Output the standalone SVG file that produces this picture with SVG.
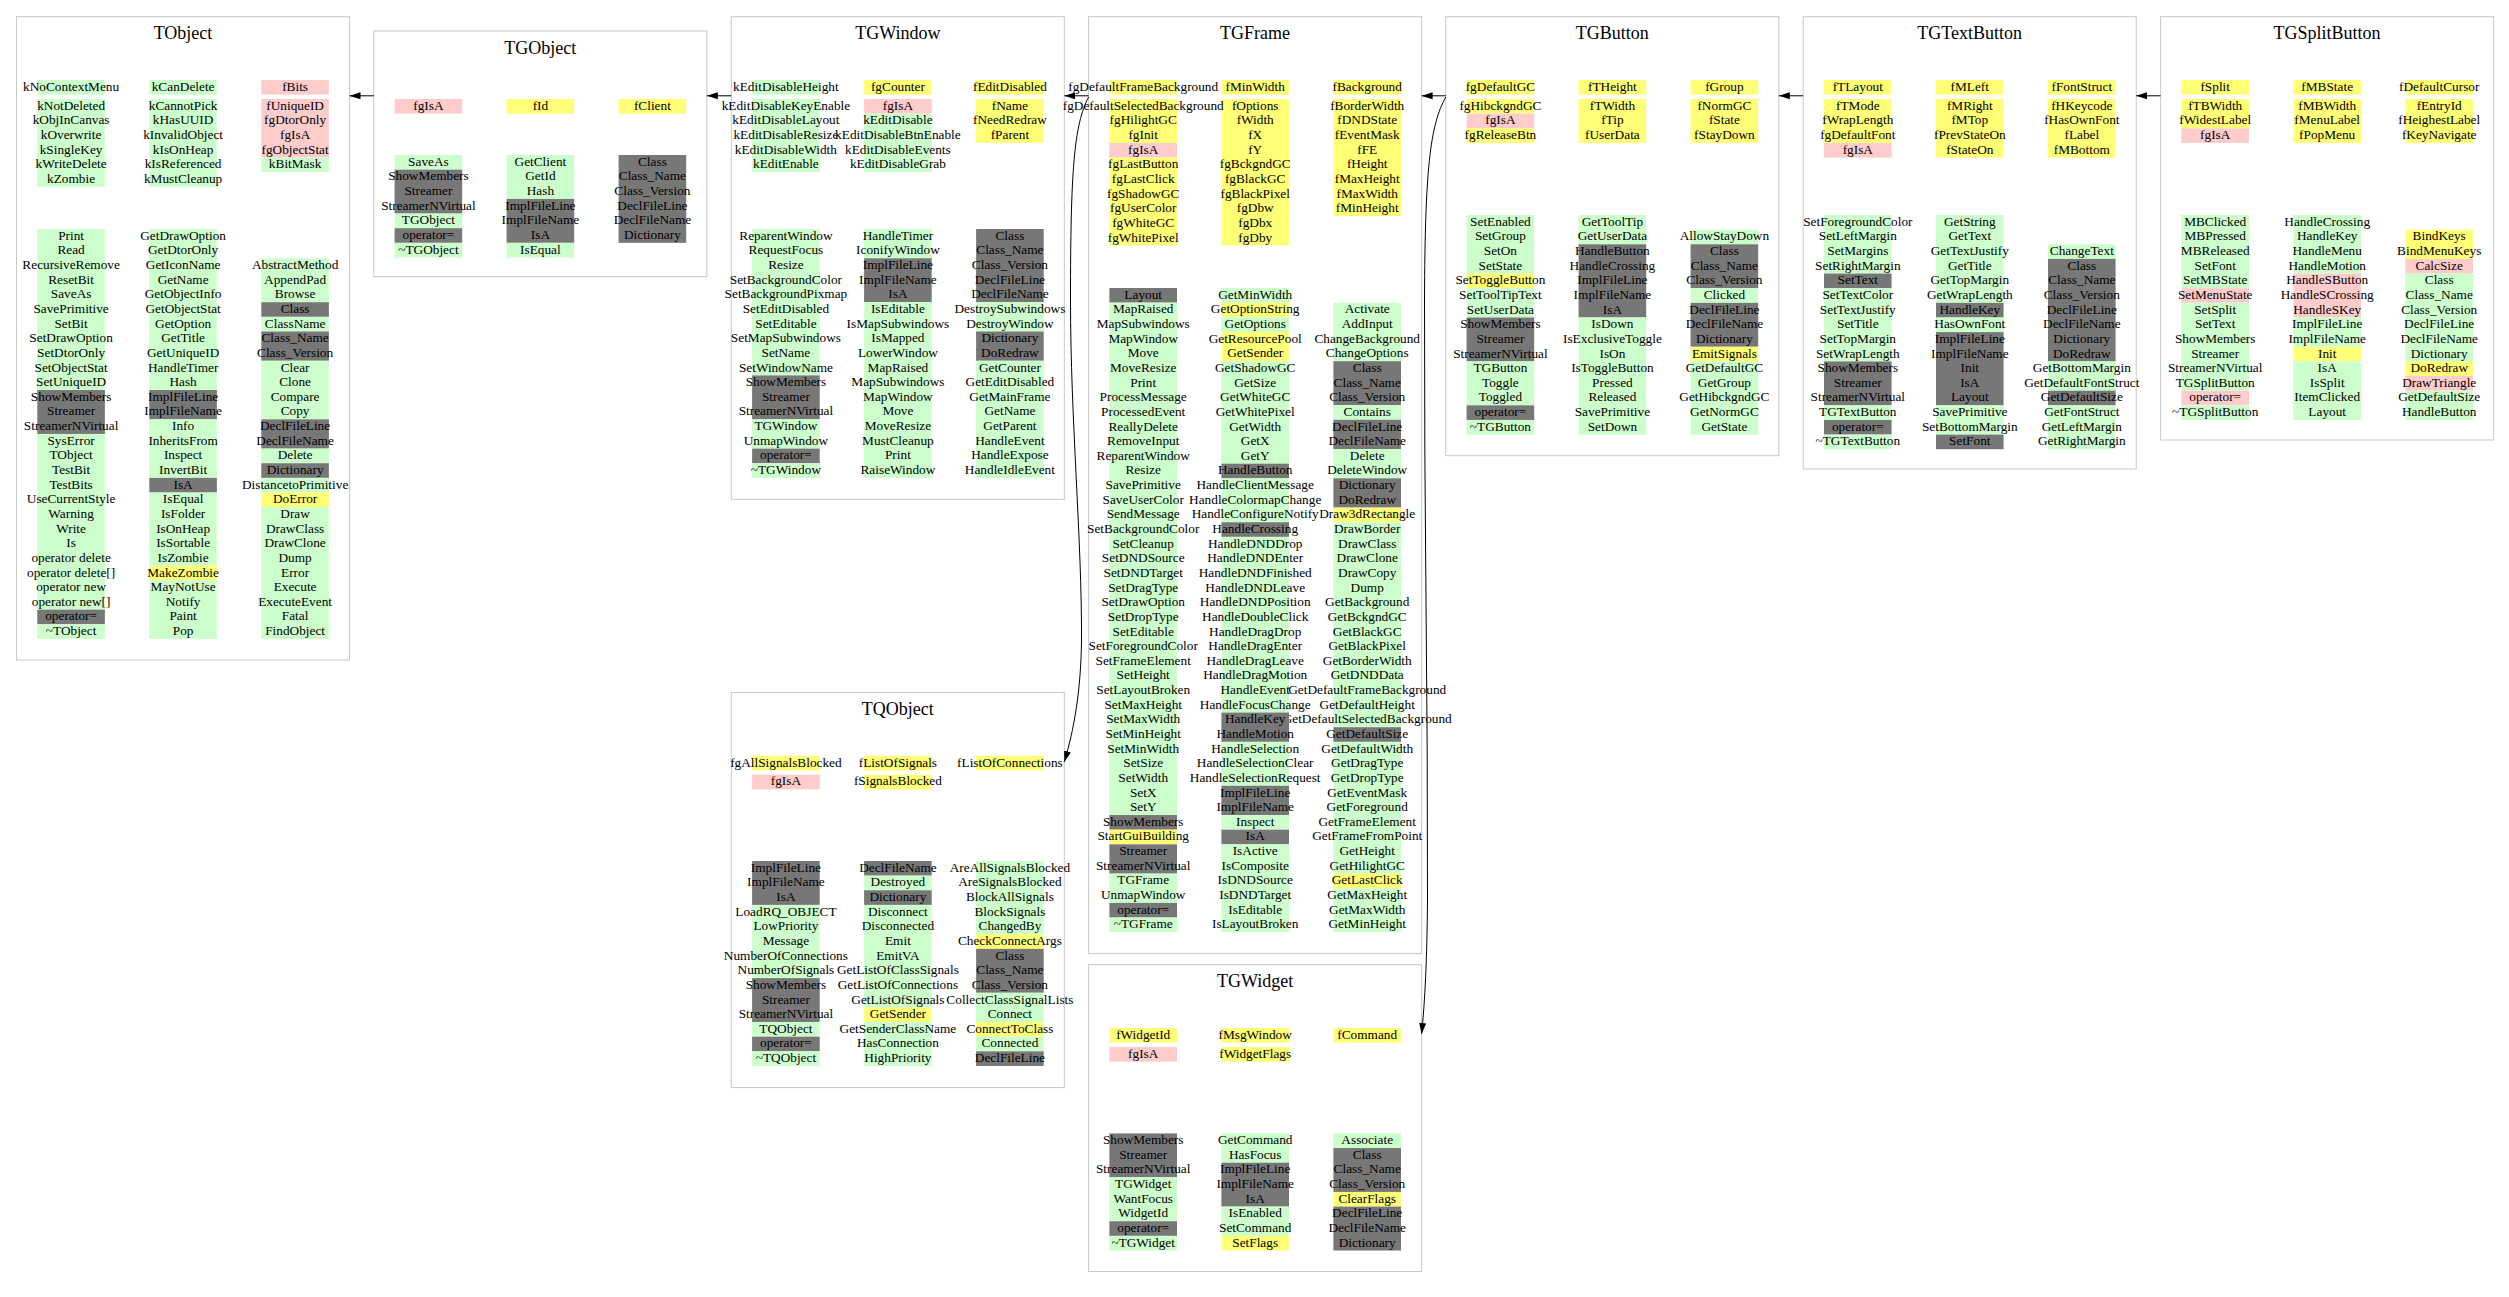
<svg xmlns="http://www.w3.org/2000/svg" width="2509" height="1297" viewBox="0 0 2509 1297">
<defs>
<style>
.bx{fill:none;stroke:#c8c8c8;stroke-width:1}
.ti{font-family:"Liberation Serif","Times New Roman",serif;font-size:18px;text-anchor:middle;fill:#000}
.t{font-family:"Liberation Serif","Times New Roman",serif;font-size:13.3px;text-anchor:middle;fill:#000}
.g{fill:#ccffcc}.p{fill:#ffcccc}.y{fill:#ffff77}.k{fill:#777777}
.e{fill:none;stroke:#000;stroke-width:1}
</style>
<marker id="ah" markerWidth="11" markerHeight="8" refX="11" refY="4" orient="auto" markerUnits="userSpaceOnUse"><path d="M0,0.5L11,4L0,7.5z" fill="#000"/></marker>
</defs>
<rect width="2509" height="1297" fill="#fff"/>

<g id="TObject" transform="translate(16.5,16.7)">
<rect class="bx" width="333" height="643.3"/>
<text class="ti" x="166.5" y="22.5">TObject</text>
<g transform="translate(278.6,63.3)"><rect class="p" x="-33.8" width="67.6" height="14.64"/><g transform="translate(0,19) scale(1,14.64)"><rect class="p" x="-33.8" y="0" width="67.6" height="4"/><rect class="g" x="-33.8" y="4" width="67.6" height="1"/></g><text class="t" y="10.8"><tspan x="0">fBits</tspan><tspan x="0" dy="19">fUniqueID</tspan><tspan x="0" dy="14.64">fgDtorOnly</tspan><tspan x="0" dy="14.64">fgIsA</tspan><tspan x="0" dy="14.64">fgObjectStat</tspan><tspan x="0" dy="14.64">kBitMask</tspan></text></g>
<g transform="translate(166.6,63.3)"><rect class="g" x="-33.8" width="67.6" height="14.64"/><g transform="translate(0,19) scale(1,14.64)"><rect class="g" x="-33.8" y="0" width="67.6" height="6"/></g><text class="t" y="10.8"><tspan x="0">kCanDelete</tspan><tspan x="0" dy="19">kCannotPick</tspan><tspan x="0" dy="14.64">kHasUUID</tspan><tspan x="0" dy="14.64">kInvalidObject</tspan><tspan x="0" dy="14.64">kIsOnHeap</tspan><tspan x="0" dy="14.64">kIsReferenced</tspan><tspan x="0" dy="14.64">kMustCleanup</tspan></text></g>
<g transform="translate(54.6,63.3)"><rect class="g" x="-33.8" width="67.6" height="14.64"/><g transform="translate(0,19) scale(1,14.64)"><rect class="g" x="-33.8" y="0" width="67.6" height="6"/></g><text class="t" y="10.8"><tspan x="0">kNoContextMenu</tspan><tspan x="0" dy="19">kNotDeleted</tspan><tspan x="0" dy="14.64">kObjInCanvas</tspan><tspan x="0" dy="14.64">kOverwrite</tspan><tspan x="0" dy="14.64">kSingleKey</tspan><tspan x="0" dy="14.64">kWriteDelete</tspan><tspan x="0" dy="14.64">kZombie</tspan></text></g>
<g transform="translate(278.6,241.58)"><g transform="scale(1,14.64)"><rect class="g" x="-33.8" y="0" width="67.6" height="3"/><rect class="k" x="-33.8" y="3" width="67.6" height="1"/><rect class="g" x="-33.8" y="4" width="67.6" height="1"/><rect class="k" x="-33.8" y="5" width="67.6" height="2"/><rect class="g" x="-33.8" y="7" width="67.6" height="4"/><rect class="k" x="-33.8" y="11" width="67.6" height="2"/><rect class="g" x="-33.8" y="13" width="67.6" height="1"/><rect class="k" x="-33.8" y="14" width="67.6" height="1"/><rect class="g" x="-33.8" y="15" width="67.6" height="1"/><rect class="y" x="-33.8" y="16" width="67.6" height="1"/><rect class="g" x="-33.8" y="17" width="67.6" height="9"/></g><text class="t" y="10.8"><tspan x="0">AbstractMethod</tspan><tspan x="0" dy="14.64">AppendPad</tspan><tspan x="0" dy="14.64">Browse</tspan><tspan x="0" dy="14.64">Class</tspan><tspan x="0" dy="14.64">ClassName</tspan><tspan x="0" dy="14.64">Class_Name</tspan><tspan x="0" dy="14.64">Class_Version</tspan><tspan x="0" dy="14.64">Clear</tspan><tspan x="0" dy="14.64">Clone</tspan><tspan x="0" dy="14.64">Compare</tspan><tspan x="0" dy="14.64">Copy</tspan><tspan x="0" dy="14.64">DeclFileLine</tspan><tspan x="0" dy="14.64">DeclFileName</tspan><tspan x="0" dy="14.64">Delete</tspan><tspan x="0" dy="14.64">Dictionary</tspan><tspan x="0" dy="14.64">DistancetoPrimitive</tspan><tspan x="0" dy="14.64">DoError</tspan><tspan x="0" dy="14.64">Draw</tspan><tspan x="0" dy="14.64">DrawClass</tspan><tspan x="0" dy="14.64">DrawClone</tspan><tspan x="0" dy="14.64">Dump</tspan><tspan x="0" dy="14.64">Error</tspan><tspan x="0" dy="14.64">Execute</tspan><tspan x="0" dy="14.64">ExecuteEvent</tspan><tspan x="0" dy="14.64">Fatal</tspan><tspan x="0" dy="14.64">FindObject</tspan></text></g>
<g transform="translate(166.6,212.3)"><g transform="scale(1,14.64)"><rect class="g" x="-33.8" y="0" width="67.6" height="11"/><rect class="k" x="-33.8" y="11" width="67.6" height="2"/><rect class="g" x="-33.8" y="13" width="67.6" height="4"/><rect class="k" x="-33.8" y="17" width="67.6" height="1"/><rect class="g" x="-33.8" y="18" width="67.6" height="5"/><rect class="y" x="-33.8" y="23" width="67.6" height="1"/><rect class="g" x="-33.8" y="24" width="67.6" height="4"/></g><text class="t" y="10.8"><tspan x="0">GetDrawOption</tspan><tspan x="0" dy="14.64">GetDtorOnly</tspan><tspan x="0" dy="14.64">GetIconName</tspan><tspan x="0" dy="14.64">GetName</tspan><tspan x="0" dy="14.64">GetObjectInfo</tspan><tspan x="0" dy="14.64">GetObjectStat</tspan><tspan x="0" dy="14.64">GetOption</tspan><tspan x="0" dy="14.64">GetTitle</tspan><tspan x="0" dy="14.64">GetUniqueID</tspan><tspan x="0" dy="14.64">HandleTimer</tspan><tspan x="0" dy="14.64">Hash</tspan><tspan x="0" dy="14.64">ImplFileLine</tspan><tspan x="0" dy="14.64">ImplFileName</tspan><tspan x="0" dy="14.64">Info</tspan><tspan x="0" dy="14.64">InheritsFrom</tspan><tspan x="0" dy="14.64">Inspect</tspan><tspan x="0" dy="14.64">InvertBit</tspan><tspan x="0" dy="14.64">IsA</tspan><tspan x="0" dy="14.64">IsEqual</tspan><tspan x="0" dy="14.64">IsFolder</tspan><tspan x="0" dy="14.64">IsOnHeap</tspan><tspan x="0" dy="14.64">IsSortable</tspan><tspan x="0" dy="14.64">IsZombie</tspan><tspan x="0" dy="14.64">MakeZombie</tspan><tspan x="0" dy="14.64">MayNotUse</tspan><tspan x="0" dy="14.64">Notify</tspan><tspan x="0" dy="14.64">Paint</tspan><tspan x="0" dy="14.64">Pop</tspan></text></g>
<g transform="translate(54.6,212.3)"><g transform="scale(1,14.64)"><rect class="g" x="-33.8" y="0" width="67.6" height="11"/><rect class="k" x="-33.8" y="11" width="67.6" height="3"/><rect class="g" x="-33.8" y="14" width="67.6" height="12"/><rect class="k" x="-33.8" y="26" width="67.6" height="1"/><rect class="g" x="-33.8" y="27" width="67.6" height="1"/></g><text class="t" y="10.8"><tspan x="0">Print</tspan><tspan x="0" dy="14.64">Read</tspan><tspan x="0" dy="14.64">RecursiveRemove</tspan><tspan x="0" dy="14.64">ResetBit</tspan><tspan x="0" dy="14.64">SaveAs</tspan><tspan x="0" dy="14.64">SavePrimitive</tspan><tspan x="0" dy="14.64">SetBit</tspan><tspan x="0" dy="14.64">SetDrawOption</tspan><tspan x="0" dy="14.64">SetDtorOnly</tspan><tspan x="0" dy="14.64">SetObjectStat</tspan><tspan x="0" dy="14.64">SetUniqueID</tspan><tspan x="0" dy="14.64">ShowMembers</tspan><tspan x="0" dy="14.64">Streamer</tspan><tspan x="0" dy="14.64">StreamerNVirtual</tspan><tspan x="0" dy="14.64">SysError</tspan><tspan x="0" dy="14.64">TObject</tspan><tspan x="0" dy="14.64">TestBit</tspan><tspan x="0" dy="14.64">TestBits</tspan><tspan x="0" dy="14.64">UseCurrentStyle</tspan><tspan x="0" dy="14.64">Warning</tspan><tspan x="0" dy="14.64">Write</tspan><tspan x="0" dy="14.64">Is</tspan><tspan x="0" dy="14.64">operator delete</tspan><tspan x="0" dy="14.64">operator delete[]</tspan><tspan x="0" dy="14.64">operator new</tspan><tspan x="0" dy="14.64">operator new[]</tspan><tspan x="0" dy="14.64">operator=</tspan><tspan x="0" dy="14.64">~TObject</tspan></text></g>
</g>

<g id="TGObject" transform="translate(373.8,31)">
<rect class="bx" width="333" height="245.7"/>
<text class="ti" x="166.5" y="22.5">TGObject</text>
<g transform="translate(278.6,68)"><rect class="y" x="-33.8" width="67.6" height="14.64"/><text class="t" x="0" y="10.8">fClient</text></g>
<g transform="translate(166.6,68)"><rect class="y" x="-33.8" width="67.6" height="14.64"/><text class="t" x="0" y="10.8">fId</text></g>
<g transform="translate(54.6,68)"><rect class="p" x="-33.8" width="67.6" height="14.64"/><text class="t" x="0" y="10.8">fgIsA</text></g>
<g transform="translate(278.6,124)"><g transform="scale(1,14.64)"><rect class="k" x="-33.8" y="0" width="67.6" height="6"/></g><text class="t" y="10.8"><tspan x="0">Class</tspan><tspan x="0" dy="14.64">Class_Name</tspan><tspan x="0" dy="14.64">Class_Version</tspan><tspan x="0" dy="14.64">DeclFileLine</tspan><tspan x="0" dy="14.64">DeclFileName</tspan><tspan x="0" dy="14.64">Dictionary</tspan></text></g>
<g transform="translate(166.6,124)"><g transform="scale(1,14.64)"><rect class="g" x="-33.8" y="0" width="67.6" height="3"/><rect class="k" x="-33.8" y="3" width="67.6" height="3"/><rect class="g" x="-33.8" y="6" width="67.6" height="1"/></g><text class="t" y="10.8"><tspan x="0">GetClient</tspan><tspan x="0" dy="14.64">GetId</tspan><tspan x="0" dy="14.64">Hash</tspan><tspan x="0" dy="14.64">ImplFileLine</tspan><tspan x="0" dy="14.64">ImplFileName</tspan><tspan x="0" dy="14.64">IsA</tspan><tspan x="0" dy="14.64">IsEqual</tspan></text></g>
<g transform="translate(54.6,124)"><g transform="scale(1,14.64)"><rect class="g" x="-33.8" y="0" width="67.6" height="1"/><rect class="k" x="-33.8" y="1" width="67.6" height="3"/><rect class="g" x="-33.8" y="4" width="67.6" height="1"/><rect class="k" x="-33.8" y="5" width="67.6" height="1"/><rect class="g" x="-33.8" y="6" width="67.6" height="1"/></g><text class="t" y="10.8"><tspan x="0">SaveAs</tspan><tspan x="0" dy="14.64">ShowMembers</tspan><tspan x="0" dy="14.64">Streamer</tspan><tspan x="0" dy="14.64">StreamerNVirtual</tspan><tspan x="0" dy="14.64">TGObject</tspan><tspan x="0" dy="14.64">operator=</tspan><tspan x="0" dy="14.64">~TGObject</tspan></text></g>
</g>

<g id="TGWindow" transform="translate(731.3,16.7)">
<rect class="bx" width="333" height="482.6"/>
<text class="ti" x="166.5" y="22.5">TGWindow</text>
<g transform="translate(278.6,63.3)"><rect class="y" x="-33.8" width="67.6" height="14.64"/><g transform="translate(0,19) scale(1,14.64)"><rect class="y" x="-33.8" y="0" width="67.6" height="3"/></g><text class="t" y="10.8"><tspan x="0">fEditDisabled</tspan><tspan x="0" dy="19">fName</tspan><tspan x="0" dy="14.64">fNeedRedraw</tspan><tspan x="0" dy="14.64">fParent</tspan></text></g>
<g transform="translate(166.6,63.3)"><rect class="y" x="-33.8" width="67.6" height="14.64"/><g transform="translate(0,19) scale(1,14.64)"><rect class="p" x="-33.8" y="0" width="67.6" height="1"/><rect class="g" x="-33.8" y="1" width="67.6" height="4"/></g><text class="t" y="10.8"><tspan x="0">fgCounter</tspan><tspan x="0" dy="19">fgIsA</tspan><tspan x="0" dy="14.64">kEditDisable</tspan><tspan x="0" dy="14.64">kEditDisableBtnEnable</tspan><tspan x="0" dy="14.64">kEditDisableEvents</tspan><tspan x="0" dy="14.64">kEditDisableGrab</tspan></text></g>
<g transform="translate(54.6,63.3)"><rect class="g" x="-33.8" width="67.6" height="14.64"/><g transform="translate(0,19) scale(1,14.64)"><rect class="g" x="-33.8" y="0" width="67.6" height="5"/></g><text class="t" y="10.8"><tspan x="0">kEditDisableHeight</tspan><tspan x="0" dy="19">kEditDisableKeyEnable</tspan><tspan x="0" dy="14.64">kEditDisableLayout</tspan><tspan x="0" dy="14.64">kEditDisableResize</tspan><tspan x="0" dy="14.64">kEditDisableWidth</tspan><tspan x="0" dy="14.64">kEditEnable</tspan></text></g>
<g transform="translate(278.6,212.3)"><g transform="scale(1,14.64)"><rect class="k" x="-33.8" y="0" width="67.6" height="5"/><rect class="g" x="-33.8" y="5" width="67.6" height="2"/><rect class="k" x="-33.8" y="7" width="67.6" height="2"/><rect class="g" x="-33.8" y="9" width="67.6" height="8"/></g><text class="t" y="10.8"><tspan x="0">Class</tspan><tspan x="0" dy="14.64">Class_Name</tspan><tspan x="0" dy="14.64">Class_Version</tspan><tspan x="0" dy="14.64">DeclFileLine</tspan><tspan x="0" dy="14.64">DeclFileName</tspan><tspan x="0" dy="14.64">DestroySubwindows</tspan><tspan x="0" dy="14.64">DestroyWindow</tspan><tspan x="0" dy="14.64">Dictionary</tspan><tspan x="0" dy="14.64">DoRedraw</tspan><tspan x="0" dy="14.64">GetCounter</tspan><tspan x="0" dy="14.64">GetEditDisabled</tspan><tspan x="0" dy="14.64">GetMainFrame</tspan><tspan x="0" dy="14.64">GetName</tspan><tspan x="0" dy="14.64">GetParent</tspan><tspan x="0" dy="14.64">HandleEvent</tspan><tspan x="0" dy="14.64">HandleExpose</tspan><tspan x="0" dy="14.64">HandleIdleEvent</tspan></text></g>
<g transform="translate(166.6,212.3)"><g transform="scale(1,14.64)"><rect class="g" x="-33.8" y="0" width="67.6" height="2"/><rect class="k" x="-33.8" y="2" width="67.6" height="3"/><rect class="g" x="-33.8" y="5" width="67.6" height="12"/></g><text class="t" y="10.8"><tspan x="0">HandleTimer</tspan><tspan x="0" dy="14.64">IconifyWindow</tspan><tspan x="0" dy="14.64">ImplFileLine</tspan><tspan x="0" dy="14.64">ImplFileName</tspan><tspan x="0" dy="14.64">IsA</tspan><tspan x="0" dy="14.64">IsEditable</tspan><tspan x="0" dy="14.64">IsMapSubwindows</tspan><tspan x="0" dy="14.64">IsMapped</tspan><tspan x="0" dy="14.64">LowerWindow</tspan><tspan x="0" dy="14.64">MapRaised</tspan><tspan x="0" dy="14.64">MapSubwindows</tspan><tspan x="0" dy="14.64">MapWindow</tspan><tspan x="0" dy="14.64">Move</tspan><tspan x="0" dy="14.64">MoveResize</tspan><tspan x="0" dy="14.64">MustCleanup</tspan><tspan x="0" dy="14.64">Print</tspan><tspan x="0" dy="14.64">RaiseWindow</tspan></text></g>
<g transform="translate(54.6,212.3)"><g transform="scale(1,14.64)"><rect class="g" x="-33.8" y="0" width="67.6" height="10"/><rect class="k" x="-33.8" y="10" width="67.6" height="3"/><rect class="g" x="-33.8" y="13" width="67.6" height="2"/><rect class="k" x="-33.8" y="15" width="67.6" height="1"/><rect class="g" x="-33.8" y="16" width="67.6" height="1"/></g><text class="t" y="10.8"><tspan x="0">ReparentWindow</tspan><tspan x="0" dy="14.64">RequestFocus</tspan><tspan x="0" dy="14.64">Resize</tspan><tspan x="0" dy="14.64">SetBackgroundColor</tspan><tspan x="0" dy="14.64">SetBackgroundPixmap</tspan><tspan x="0" dy="14.64">SetEditDisabled</tspan><tspan x="0" dy="14.64">SetEditable</tspan><tspan x="0" dy="14.64">SetMapSubwindows</tspan><tspan x="0" dy="14.64">SetName</tspan><tspan x="0" dy="14.64">SetWindowName</tspan><tspan x="0" dy="14.64">ShowMembers</tspan><tspan x="0" dy="14.64">Streamer</tspan><tspan x="0" dy="14.64">StreamerNVirtual</tspan><tspan x="0" dy="14.64">TGWindow</tspan><tspan x="0" dy="14.64">UnmapWindow</tspan><tspan x="0" dy="14.64">operator=</tspan><tspan x="0" dy="14.64">~TGWindow</tspan></text></g>
</g>

<g id="TGFrame" transform="translate(1088.6,16.7)">
<rect class="bx" width="333" height="936.9"/>
<text class="ti" x="166.5" y="22.5">TGFrame</text>
<g transform="translate(278.6,63.3)"><rect class="y" x="-33.8" width="67.6" height="14.64"/><g transform="translate(0,19) scale(1,14.64)"><rect class="y" x="-33.8" y="0" width="67.6" height="8"/></g><text class="t" y="10.8"><tspan x="0">fBackground</tspan><tspan x="0" dy="19">fBorderWidth</tspan><tspan x="0" dy="14.64">fDNDState</tspan><tspan x="0" dy="14.64">fEventMask</tspan><tspan x="0" dy="14.64">fFE</tspan><tspan x="0" dy="14.64">fHeight</tspan><tspan x="0" dy="14.64">fMaxHeight</tspan><tspan x="0" dy="14.64">fMaxWidth</tspan><tspan x="0" dy="14.64">fMinHeight</tspan></text></g>
<g transform="translate(166.6,63.3)"><rect class="y" x="-33.8" width="67.6" height="14.64"/><g transform="translate(0,19) scale(1,14.64)"><rect class="y" x="-33.8" y="0" width="67.6" height="10"/></g><text class="t" y="10.8"><tspan x="0">fMinWidth</tspan><tspan x="0" dy="19">fOptions</tspan><tspan x="0" dy="14.64">fWidth</tspan><tspan x="0" dy="14.64">fX</tspan><tspan x="0" dy="14.64">fY</tspan><tspan x="0" dy="14.64">fgBckgndGC</tspan><tspan x="0" dy="14.64">fgBlackGC</tspan><tspan x="0" dy="14.64">fgBlackPixel</tspan><tspan x="0" dy="14.64">fgDbw</tspan><tspan x="0" dy="14.64">fgDbx</tspan><tspan x="0" dy="14.64">fgDby</tspan></text></g>
<g transform="translate(54.6,63.3)"><rect class="y" x="-33.8" width="67.6" height="14.64"/><g transform="translate(0,19) scale(1,14.64)"><rect class="y" x="-33.8" y="0" width="67.6" height="3"/><rect class="p" x="-33.8" y="3" width="67.6" height="1"/><rect class="y" x="-33.8" y="4" width="67.6" height="6"/></g><text class="t" y="10.8"><tspan x="0">fgDefaultFrameBackground</tspan><tspan x="0" dy="19">fgDefaultSelectedBackground</tspan><tspan x="0" dy="14.64">fgHilightGC</tspan><tspan x="0" dy="14.64">fgInit</tspan><tspan x="0" dy="14.64">fgIsA</tspan><tspan x="0" dy="14.64">fgLastButton</tspan><tspan x="0" dy="14.64">fgLastClick</tspan><tspan x="0" dy="14.64">fgShadowGC</tspan><tspan x="0" dy="14.64">fgUserColor</tspan><tspan x="0" dy="14.64">fgWhiteGC</tspan><tspan x="0" dy="14.64">fgWhitePixel</tspan></text></g>
<g transform="translate(278.6,285.94)"><g transform="scale(1,14.64)"><rect class="g" x="-33.8" y="0" width="67.6" height="4"/><rect class="k" x="-33.8" y="4" width="67.6" height="3"/><rect class="g" x="-33.8" y="7" width="67.6" height="1"/><rect class="k" x="-33.8" y="8" width="67.6" height="2"/><rect class="g" x="-33.8" y="10" width="67.6" height="2"/><rect class="k" x="-33.8" y="12" width="67.6" height="2"/><rect class="y" x="-33.8" y="14" width="67.6" height="1"/><rect class="g" x="-33.8" y="15" width="67.6" height="14"/><rect class="k" x="-33.8" y="29" width="67.6" height="1"/><rect class="g" x="-33.8" y="30" width="67.6" height="9"/><rect class="y" x="-33.8" y="39" width="67.6" height="1"/><rect class="g" x="-33.8" y="40" width="67.6" height="3"/></g><text class="t" y="10.8"><tspan x="0">Activate</tspan><tspan x="0" dy="14.64">AddInput</tspan><tspan x="0" dy="14.64">ChangeBackground</tspan><tspan x="0" dy="14.64">ChangeOptions</tspan><tspan x="0" dy="14.64">Class</tspan><tspan x="0" dy="14.64">Class_Name</tspan><tspan x="0" dy="14.64">Class_Version</tspan><tspan x="0" dy="14.64">Contains</tspan><tspan x="0" dy="14.64">DeclFileLine</tspan><tspan x="0" dy="14.64">DeclFileName</tspan><tspan x="0" dy="14.64">Delete</tspan><tspan x="0" dy="14.64">DeleteWindow</tspan><tspan x="0" dy="14.64">Dictionary</tspan><tspan x="0" dy="14.64">DoRedraw</tspan><tspan x="0" dy="14.64">Draw3dRectangle</tspan><tspan x="0" dy="14.64">DrawBorder</tspan><tspan x="0" dy="14.64">DrawClass</tspan><tspan x="0" dy="14.64">DrawClone</tspan><tspan x="0" dy="14.64">DrawCopy</tspan><tspan x="0" dy="14.64">Dump</tspan><tspan x="0" dy="14.64">GetBackground</tspan><tspan x="0" dy="14.64">GetBckgndGC</tspan><tspan x="0" dy="14.64">GetBlackGC</tspan><tspan x="0" dy="14.64">GetBlackPixel</tspan><tspan x="0" dy="14.64">GetBorderWidth</tspan><tspan x="0" dy="14.64">GetDNDData</tspan><tspan x="0" dy="14.64">GetDefaultFrameBackground</tspan><tspan x="0" dy="14.64">GetDefaultHeight</tspan><tspan x="0" dy="14.64">GetDefaultSelectedBackground</tspan><tspan x="0" dy="14.64">GetDefaultSize</tspan><tspan x="0" dy="14.64">GetDefaultWidth</tspan><tspan x="0" dy="14.64">GetDragType</tspan><tspan x="0" dy="14.64">GetDropType</tspan><tspan x="0" dy="14.64">GetEventMask</tspan><tspan x="0" dy="14.64">GetForeground</tspan><tspan x="0" dy="14.64">GetFrameElement</tspan><tspan x="0" dy="14.64">GetFrameFromPoint</tspan><tspan x="0" dy="14.64">GetHeight</tspan><tspan x="0" dy="14.64">GetHilightGC</tspan><tspan x="0" dy="14.64">GetLastClick</tspan><tspan x="0" dy="14.64">GetMaxHeight</tspan><tspan x="0" dy="14.64">GetMaxWidth</tspan><tspan x="0" dy="14.64">GetMinHeight</tspan></text></g>
<g transform="translate(166.6,271.3)"><g transform="scale(1,14.64)"><rect class="g" x="-33.8" y="0" width="67.6" height="1"/><rect class="y" x="-33.8" y="1" width="67.6" height="1"/><rect class="g" x="-33.8" y="2" width="67.6" height="1"/><rect class="y" x="-33.8" y="3" width="67.6" height="2"/><rect class="g" x="-33.8" y="5" width="67.6" height="7"/><rect class="k" x="-33.8" y="12" width="67.6" height="1"/><rect class="g" x="-33.8" y="13" width="67.6" height="3"/><rect class="k" x="-33.8" y="16" width="67.6" height="1"/><rect class="g" x="-33.8" y="17" width="67.6" height="12"/><rect class="k" x="-33.8" y="29" width="67.6" height="2"/><rect class="g" x="-33.8" y="31" width="67.6" height="3"/><rect class="k" x="-33.8" y="34" width="67.6" height="2"/><rect class="g" x="-33.8" y="36" width="67.6" height="1"/><rect class="k" x="-33.8" y="37" width="67.6" height="1"/><rect class="g" x="-33.8" y="38" width="67.6" height="6"/></g><text class="t" y="10.8"><tspan x="0">GetMinWidth</tspan><tspan x="0" dy="14.64">GetOptionString</tspan><tspan x="0" dy="14.64">GetOptions</tspan><tspan x="0" dy="14.64">GetResourcePool</tspan><tspan x="0" dy="14.64">GetSender</tspan><tspan x="0" dy="14.64">GetShadowGC</tspan><tspan x="0" dy="14.64">GetSize</tspan><tspan x="0" dy="14.64">GetWhiteGC</tspan><tspan x="0" dy="14.64">GetWhitePixel</tspan><tspan x="0" dy="14.64">GetWidth</tspan><tspan x="0" dy="14.64">GetX</tspan><tspan x="0" dy="14.64">GetY</tspan><tspan x="0" dy="14.64">HandleButton</tspan><tspan x="0" dy="14.64">HandleClientMessage</tspan><tspan x="0" dy="14.64">HandleColormapChange</tspan><tspan x="0" dy="14.64">HandleConfigureNotify</tspan><tspan x="0" dy="14.64">HandleCrossing</tspan><tspan x="0" dy="14.64">HandleDNDDrop</tspan><tspan x="0" dy="14.64">HandleDNDEnter</tspan><tspan x="0" dy="14.64">HandleDNDFinished</tspan><tspan x="0" dy="14.64">HandleDNDLeave</tspan><tspan x="0" dy="14.64">HandleDNDPosition</tspan><tspan x="0" dy="14.64">HandleDoubleClick</tspan><tspan x="0" dy="14.64">HandleDragDrop</tspan><tspan x="0" dy="14.64">HandleDragEnter</tspan><tspan x="0" dy="14.64">HandleDragLeave</tspan><tspan x="0" dy="14.64">HandleDragMotion</tspan><tspan x="0" dy="14.64">HandleEvent</tspan><tspan x="0" dy="14.64">HandleFocusChange</tspan><tspan x="0" dy="14.64">HandleKey</tspan><tspan x="0" dy="14.64">HandleMotion</tspan><tspan x="0" dy="14.64">HandleSelection</tspan><tspan x="0" dy="14.64">HandleSelectionClear</tspan><tspan x="0" dy="14.64">HandleSelectionRequest</tspan><tspan x="0" dy="14.64">ImplFileLine</tspan><tspan x="0" dy="14.64">ImplFileName</tspan><tspan x="0" dy="14.64">Inspect</tspan><tspan x="0" dy="14.64">IsA</tspan><tspan x="0" dy="14.64">IsActive</tspan><tspan x="0" dy="14.64">IsComposite</tspan><tspan x="0" dy="14.64">IsDNDSource</tspan><tspan x="0" dy="14.64">IsDNDTarget</tspan><tspan x="0" dy="14.64">IsEditable</tspan><tspan x="0" dy="14.64">IsLayoutBroken</tspan></text></g>
<g transform="translate(54.6,271.3)"><g transform="scale(1,14.64)"><rect class="k" x="-33.8" y="0" width="67.6" height="1"/><rect class="g" x="-33.8" y="1" width="67.6" height="35"/><rect class="k" x="-33.8" y="36" width="67.6" height="1"/><rect class="y" x="-33.8" y="37" width="67.6" height="1"/><rect class="k" x="-33.8" y="38" width="67.6" height="2"/><rect class="g" x="-33.8" y="40" width="67.6" height="2"/><rect class="k" x="-33.8" y="42" width="67.6" height="1"/><rect class="g" x="-33.8" y="43" width="67.6" height="1"/></g><text class="t" y="10.8"><tspan x="0">Layout</tspan><tspan x="0" dy="14.64">MapRaised</tspan><tspan x="0" dy="14.64">MapSubwindows</tspan><tspan x="0" dy="14.64">MapWindow</tspan><tspan x="0" dy="14.64">Move</tspan><tspan x="0" dy="14.64">MoveResize</tspan><tspan x="0" dy="14.64">Print</tspan><tspan x="0" dy="14.64">ProcessMessage</tspan><tspan x="0" dy="14.64">ProcessedEvent</tspan><tspan x="0" dy="14.64">ReallyDelete</tspan><tspan x="0" dy="14.64">RemoveInput</tspan><tspan x="0" dy="14.64">ReparentWindow</tspan><tspan x="0" dy="14.64">Resize</tspan><tspan x="0" dy="14.64">SavePrimitive</tspan><tspan x="0" dy="14.64">SaveUserColor</tspan><tspan x="0" dy="14.64">SendMessage</tspan><tspan x="0" dy="14.64">SetBackgroundColor</tspan><tspan x="0" dy="14.64">SetCleanup</tspan><tspan x="0" dy="14.64">SetDNDSource</tspan><tspan x="0" dy="14.64">SetDNDTarget</tspan><tspan x="0" dy="14.64">SetDragType</tspan><tspan x="0" dy="14.64">SetDrawOption</tspan><tspan x="0" dy="14.64">SetDropType</tspan><tspan x="0" dy="14.64">SetEditable</tspan><tspan x="0" dy="14.64">SetForegroundColor</tspan><tspan x="0" dy="14.64">SetFrameElement</tspan><tspan x="0" dy="14.64">SetHeight</tspan><tspan x="0" dy="14.64">SetLayoutBroken</tspan><tspan x="0" dy="14.64">SetMaxHeight</tspan><tspan x="0" dy="14.64">SetMaxWidth</tspan><tspan x="0" dy="14.64">SetMinHeight</tspan><tspan x="0" dy="14.64">SetMinWidth</tspan><tspan x="0" dy="14.64">SetSize</tspan><tspan x="0" dy="14.64">SetWidth</tspan><tspan x="0" dy="14.64">SetX</tspan><tspan x="0" dy="14.64">SetY</tspan><tspan x="0" dy="14.64">ShowMembers</tspan><tspan x="0" dy="14.64">StartGuiBuilding</tspan><tspan x="0" dy="14.64">Streamer</tspan><tspan x="0" dy="14.64">StreamerNVirtual</tspan><tspan x="0" dy="14.64">TGFrame</tspan><tspan x="0" dy="14.64">UnmapWindow</tspan><tspan x="0" dy="14.64">operator=</tspan><tspan x="0" dy="14.64">~TGFrame</tspan></text></g>
</g>

<g id="TGButton" transform="translate(1445.8,16.7)">
<rect class="bx" width="333" height="439"/>
<text class="ti" x="166.5" y="22.5">TGButton</text>
<g transform="translate(278.6,63.3)"><rect class="y" x="-33.8" width="67.6" height="14.64"/><g transform="translate(0,19) scale(1,14.64)"><rect class="y" x="-33.8" y="0" width="67.6" height="3"/></g><text class="t" y="10.8"><tspan x="0">fGroup</tspan><tspan x="0" dy="19">fNormGC</tspan><tspan x="0" dy="14.64">fState</tspan><tspan x="0" dy="14.64">fStayDown</tspan></text></g>
<g transform="translate(166.6,63.3)"><rect class="y" x="-33.8" width="67.6" height="14.64"/><g transform="translate(0,19) scale(1,14.64)"><rect class="y" x="-33.8" y="0" width="67.6" height="3"/></g><text class="t" y="10.8"><tspan x="0">fTHeight</tspan><tspan x="0" dy="19">fTWidth</tspan><tspan x="0" dy="14.64">fTip</tspan><tspan x="0" dy="14.64">fUserData</tspan></text></g>
<g transform="translate(54.6,63.3)"><rect class="y" x="-33.8" width="67.6" height="14.64"/><g transform="translate(0,19) scale(1,14.64)"><rect class="y" x="-33.8" y="0" width="67.6" height="1"/><rect class="p" x="-33.8" y="1" width="67.6" height="1"/><rect class="y" x="-33.8" y="2" width="67.6" height="1"/></g><text class="t" y="10.8"><tspan x="0">fgDefaultGC</tspan><tspan x="0" dy="19">fgHibckgndGC</tspan><tspan x="0" dy="14.64">fgIsA</tspan><tspan x="0" dy="14.64">fgReleaseBtn</tspan></text></g>
<g transform="translate(278.6,212.94)"><g transform="scale(1,14.64)"><rect class="g" x="-33.8" y="0" width="67.6" height="1"/><rect class="k" x="-33.8" y="1" width="67.6" height="3"/><rect class="g" x="-33.8" y="4" width="67.6" height="1"/><rect class="k" x="-33.8" y="5" width="67.6" height="3"/><rect class="y" x="-33.8" y="8" width="67.6" height="1"/><rect class="g" x="-33.8" y="9" width="67.6" height="5"/></g><text class="t" y="10.8"><tspan x="0">AllowStayDown</tspan><tspan x="0" dy="14.64">Class</tspan><tspan x="0" dy="14.64">Class_Name</tspan><tspan x="0" dy="14.64">Class_Version</tspan><tspan x="0" dy="14.64">Clicked</tspan><tspan x="0" dy="14.64">DeclFileLine</tspan><tspan x="0" dy="14.64">DeclFileName</tspan><tspan x="0" dy="14.64">Dictionary</tspan><tspan x="0" dy="14.64">EmitSignals</tspan><tspan x="0" dy="14.64">GetDefaultGC</tspan><tspan x="0" dy="14.64">GetGroup</tspan><tspan x="0" dy="14.64">GetHibckgndGC</tspan><tspan x="0" dy="14.64">GetNormGC</tspan><tspan x="0" dy="14.64">GetState</tspan></text></g>
<g transform="translate(166.6,198.3)"><g transform="scale(1,14.64)"><rect class="g" x="-33.8" y="0" width="67.6" height="2"/><rect class="k" x="-33.8" y="2" width="67.6" height="5"/><rect class="g" x="-33.8" y="7" width="67.6" height="8"/></g><text class="t" y="10.8"><tspan x="0">GetToolTip</tspan><tspan x="0" dy="14.64">GetUserData</tspan><tspan x="0" dy="14.64">HandleButton</tspan><tspan x="0" dy="14.64">HandleCrossing</tspan><tspan x="0" dy="14.64">ImplFileLine</tspan><tspan x="0" dy="14.64">ImplFileName</tspan><tspan x="0" dy="14.64">IsA</tspan><tspan x="0" dy="14.64">IsDown</tspan><tspan x="0" dy="14.64">IsExclusiveToggle</tspan><tspan x="0" dy="14.64">IsOn</tspan><tspan x="0" dy="14.64">IsToggleButton</tspan><tspan x="0" dy="14.64">Pressed</tspan><tspan x="0" dy="14.64">Released</tspan><tspan x="0" dy="14.64">SavePrimitive</tspan><tspan x="0" dy="14.64">SetDown</tspan></text></g>
<g transform="translate(54.6,198.3)"><g transform="scale(1,14.64)"><rect class="g" x="-33.8" y="0" width="67.6" height="4"/><rect class="y" x="-33.8" y="4" width="67.6" height="1"/><rect class="g" x="-33.8" y="5" width="67.6" height="2"/><rect class="k" x="-33.8" y="7" width="67.6" height="3"/><rect class="g" x="-33.8" y="10" width="67.6" height="3"/><rect class="k" x="-33.8" y="13" width="67.6" height="1"/><rect class="g" x="-33.8" y="14" width="67.6" height="1"/></g><text class="t" y="10.8"><tspan x="0">SetEnabled</tspan><tspan x="0" dy="14.64">SetGroup</tspan><tspan x="0" dy="14.64">SetOn</tspan><tspan x="0" dy="14.64">SetState</tspan><tspan x="0" dy="14.64">SetToggleButton</tspan><tspan x="0" dy="14.64">SetToolTipText</tspan><tspan x="0" dy="14.64">SetUserData</tspan><tspan x="0" dy="14.64">ShowMembers</tspan><tspan x="0" dy="14.64">Streamer</tspan><tspan x="0" dy="14.64">StreamerNVirtual</tspan><tspan x="0" dy="14.64">TGButton</tspan><tspan x="0" dy="14.64">Toggle</tspan><tspan x="0" dy="14.64">Toggled</tspan><tspan x="0" dy="14.64">operator=</tspan><tspan x="0" dy="14.64">~TGButton</tspan></text></g>
</g>

<g id="TGTextButton" transform="translate(1803.2,16.7)">
<rect class="bx" width="333" height="452.3"/>
<text class="ti" x="166.5" y="22.5">TGTextButton</text>
<g transform="translate(278.6,63.3)"><rect class="y" x="-33.8" width="67.6" height="14.64"/><g transform="translate(0,19) scale(1,14.64)"><rect class="y" x="-33.8" y="0" width="67.6" height="4"/></g><text class="t" y="10.8"><tspan x="0">fFontStruct</tspan><tspan x="0" dy="19">fHKeycode</tspan><tspan x="0" dy="14.64">fHasOwnFont</tspan><tspan x="0" dy="14.64">fLabel</tspan><tspan x="0" dy="14.64">fMBottom</tspan></text></g>
<g transform="translate(166.6,63.3)"><rect class="y" x="-33.8" width="67.6" height="14.64"/><g transform="translate(0,19) scale(1,14.64)"><rect class="y" x="-33.8" y="0" width="67.6" height="4"/></g><text class="t" y="10.8"><tspan x="0">fMLeft</tspan><tspan x="0" dy="19">fMRight</tspan><tspan x="0" dy="14.64">fMTop</tspan><tspan x="0" dy="14.64">fPrevStateOn</tspan><tspan x="0" dy="14.64">fStateOn</tspan></text></g>
<g transform="translate(54.6,63.3)"><rect class="y" x="-33.8" width="67.6" height="14.64"/><g transform="translate(0,19) scale(1,14.64)"><rect class="y" x="-33.8" y="0" width="67.6" height="3"/><rect class="p" x="-33.8" y="3" width="67.6" height="1"/></g><text class="t" y="10.8"><tspan x="0">fTLayout</tspan><tspan x="0" dy="19">fTMode</tspan><tspan x="0" dy="14.64">fWrapLength</tspan><tspan x="0" dy="14.64">fgDefaultFont</tspan><tspan x="0" dy="14.64">fgIsA</tspan></text></g>
<g transform="translate(278.6,227.58)"><g transform="scale(1,14.64)"><rect class="g" x="-33.8" y="0" width="67.6" height="1"/><rect class="k" x="-33.8" y="1" width="67.6" height="7"/><rect class="g" x="-33.8" y="8" width="67.6" height="2"/><rect class="k" x="-33.8" y="10" width="67.6" height="1"/><rect class="g" x="-33.8" y="11" width="67.6" height="3"/></g><text class="t" y="10.8"><tspan x="0">ChangeText</tspan><tspan x="0" dy="14.64">Class</tspan><tspan x="0" dy="14.64">Class_Name</tspan><tspan x="0" dy="14.64">Class_Version</tspan><tspan x="0" dy="14.64">DeclFileLine</tspan><tspan x="0" dy="14.64">DeclFileName</tspan><tspan x="0" dy="14.64">Dictionary</tspan><tspan x="0" dy="14.64">DoRedraw</tspan><tspan x="0" dy="14.64">GetBottomMargin</tspan><tspan x="0" dy="14.64">GetDefaultFontStruct</tspan><tspan x="0" dy="14.64">GetDefaultSize</tspan><tspan x="0" dy="14.64">GetFontStruct</tspan><tspan x="0" dy="14.64">GetLeftMargin</tspan><tspan x="0" dy="14.64">GetRightMargin</tspan></text></g>
<g transform="translate(166.6,198.3)"><g transform="scale(1,14.64)"><rect class="g" x="-33.8" y="0" width="67.6" height="6"/><rect class="k" x="-33.8" y="6" width="67.6" height="1"/><rect class="g" x="-33.8" y="7" width="67.6" height="1"/><rect class="k" x="-33.8" y="8" width="67.6" height="5"/><rect class="g" x="-33.8" y="13" width="67.6" height="2"/><rect class="k" x="-33.8" y="15" width="67.6" height="1"/></g><text class="t" y="10.8"><tspan x="0">GetString</tspan><tspan x="0" dy="14.64">GetText</tspan><tspan x="0" dy="14.64">GetTextJustify</tspan><tspan x="0" dy="14.64">GetTitle</tspan><tspan x="0" dy="14.64">GetTopMargin</tspan><tspan x="0" dy="14.64">GetWrapLength</tspan><tspan x="0" dy="14.64">HandleKey</tspan><tspan x="0" dy="14.64">HasOwnFont</tspan><tspan x="0" dy="14.64">ImplFileLine</tspan><tspan x="0" dy="14.64">ImplFileName</tspan><tspan x="0" dy="14.64">Init</tspan><tspan x="0" dy="14.64">IsA</tspan><tspan x="0" dy="14.64">Layout</tspan><tspan x="0" dy="14.64">SavePrimitive</tspan><tspan x="0" dy="14.64">SetBottomMargin</tspan><tspan x="0" dy="14.64">SetFont</tspan></text></g>
<g transform="translate(54.6,198.3)"><g transform="scale(1,14.64)"><rect class="g" x="-33.8" y="0" width="67.6" height="4"/><rect class="k" x="-33.8" y="4" width="67.6" height="1"/><rect class="g" x="-33.8" y="5" width="67.6" height="5"/><rect class="k" x="-33.8" y="10" width="67.6" height="3"/><rect class="g" x="-33.8" y="13" width="67.6" height="1"/><rect class="k" x="-33.8" y="14" width="67.6" height="1"/><rect class="g" x="-33.8" y="15" width="67.6" height="1"/></g><text class="t" y="10.8"><tspan x="0">SetForegroundColor</tspan><tspan x="0" dy="14.64">SetLeftMargin</tspan><tspan x="0" dy="14.64">SetMargins</tspan><tspan x="0" dy="14.64">SetRightMargin</tspan><tspan x="0" dy="14.64">SetText</tspan><tspan x="0" dy="14.64">SetTextColor</tspan><tspan x="0" dy="14.64">SetTextJustify</tspan><tspan x="0" dy="14.64">SetTitle</tspan><tspan x="0" dy="14.64">SetTopMargin</tspan><tspan x="0" dy="14.64">SetWrapLength</tspan><tspan x="0" dy="14.64">ShowMembers</tspan><tspan x="0" dy="14.64">Streamer</tspan><tspan x="0" dy="14.64">StreamerNVirtual</tspan><tspan x="0" dy="14.64">TGTextButton</tspan><tspan x="0" dy="14.64">operator=</tspan><tspan x="0" dy="14.64">~TGTextButton</tspan></text></g>
</g>

<g id="TGSplitButton" transform="translate(2160.6,16.7)">
<rect class="bx" width="333" height="423.3"/>
<text class="ti" x="166.5" y="22.5">TGSplitButton</text>
<g transform="translate(278.6,63.3)"><rect class="y" x="-33.8" width="67.6" height="14.64"/><g transform="translate(0,19) scale(1,14.64)"><rect class="y" x="-33.8" y="0" width="67.6" height="3"/></g><text class="t" y="10.8"><tspan x="0">fDefaultCursor</tspan><tspan x="0" dy="19">fEntryId</tspan><tspan x="0" dy="14.64">fHeighestLabel</tspan><tspan x="0" dy="14.64">fKeyNavigate</tspan></text></g>
<g transform="translate(166.6,63.3)"><rect class="y" x="-33.8" width="67.6" height="14.64"/><g transform="translate(0,19) scale(1,14.64)"><rect class="y" x="-33.8" y="0" width="67.6" height="3"/></g><text class="t" y="10.8"><tspan x="0">fMBState</tspan><tspan x="0" dy="19">fMBWidth</tspan><tspan x="0" dy="14.64">fMenuLabel</tspan><tspan x="0" dy="14.64">fPopMenu</tspan></text></g>
<g transform="translate(54.6,63.3)"><rect class="y" x="-33.8" width="67.6" height="14.64"/><g transform="translate(0,19) scale(1,14.64)"><rect class="y" x="-33.8" y="0" width="67.6" height="2"/><rect class="p" x="-33.8" y="2" width="67.6" height="1"/></g><text class="t" y="10.8"><tspan x="0">fSplit</tspan><tspan x="0" dy="19">fTBWidth</tspan><tspan x="0" dy="14.64">fWidestLabel</tspan><tspan x="0" dy="14.64">fgIsA</tspan></text></g>
<g transform="translate(278.6,212.94)"><g transform="scale(1,14.64)"><rect class="y" x="-33.8" y="0" width="67.6" height="2"/><rect class="p" x="-33.8" y="2" width="67.6" height="1"/><rect class="g" x="-33.8" y="3" width="67.6" height="6"/><rect class="y" x="-33.8" y="9" width="67.6" height="1"/><rect class="p" x="-33.8" y="10" width="67.6" height="1"/><rect class="g" x="-33.8" y="11" width="67.6" height="2"/></g><text class="t" y="10.8"><tspan x="0">BindKeys</tspan><tspan x="0" dy="14.64">BindMenuKeys</tspan><tspan x="0" dy="14.64">CalcSize</tspan><tspan x="0" dy="14.64">Class</tspan><tspan x="0" dy="14.64">Class_Name</tspan><tspan x="0" dy="14.64">Class_Version</tspan><tspan x="0" dy="14.64">DeclFileLine</tspan><tspan x="0" dy="14.64">DeclFileName</tspan><tspan x="0" dy="14.64">Dictionary</tspan><tspan x="0" dy="14.64">DoRedraw</tspan><tspan x="0" dy="14.64">DrawTriangle</tspan><tspan x="0" dy="14.64">GetDefaultSize</tspan><tspan x="0" dy="14.64">HandleButton</tspan></text></g>
<g transform="translate(166.6,198.3)"><g transform="scale(1,14.64)"><rect class="g" x="-33.8" y="0" width="67.6" height="4"/><rect class="p" x="-33.8" y="4" width="67.6" height="3"/><rect class="g" x="-33.8" y="7" width="67.6" height="2"/><rect class="y" x="-33.8" y="9" width="67.6" height="1"/><rect class="g" x="-33.8" y="10" width="67.6" height="4"/></g><text class="t" y="10.8"><tspan x="0">HandleCrossing</tspan><tspan x="0" dy="14.64">HandleKey</tspan><tspan x="0" dy="14.64">HandleMenu</tspan><tspan x="0" dy="14.64">HandleMotion</tspan><tspan x="0" dy="14.64">HandleSButton</tspan><tspan x="0" dy="14.64">HandleSCrossing</tspan><tspan x="0" dy="14.64">HandleSKey</tspan><tspan x="0" dy="14.64">ImplFileLine</tspan><tspan x="0" dy="14.64">ImplFileName</tspan><tspan x="0" dy="14.64">Init</tspan><tspan x="0" dy="14.64">IsA</tspan><tspan x="0" dy="14.64">IsSplit</tspan><tspan x="0" dy="14.64">ItemClicked</tspan><tspan x="0" dy="14.64">Layout</tspan></text></g>
<g transform="translate(54.6,198.3)"><g transform="scale(1,14.64)"><rect class="g" x="-33.8" y="0" width="67.6" height="5"/><rect class="p" x="-33.8" y="5" width="67.6" height="1"/><rect class="g" x="-33.8" y="6" width="67.6" height="6"/><rect class="p" x="-33.8" y="12" width="67.6" height="1"/><rect class="g" x="-33.8" y="13" width="67.6" height="1"/></g><text class="t" y="10.8"><tspan x="0">MBClicked</tspan><tspan x="0" dy="14.64">MBPressed</tspan><tspan x="0" dy="14.64">MBReleased</tspan><tspan x="0" dy="14.64">SetFont</tspan><tspan x="0" dy="14.64">SetMBState</tspan><tspan x="0" dy="14.64">SetMenuState</tspan><tspan x="0" dy="14.64">SetSplit</tspan><tspan x="0" dy="14.64">SetText</tspan><tspan x="0" dy="14.64">ShowMembers</tspan><tspan x="0" dy="14.64">Streamer</tspan><tspan x="0" dy="14.64">StreamerNVirtual</tspan><tspan x="0" dy="14.64">TGSplitButton</tspan><tspan x="0" dy="14.64">operator=</tspan><tspan x="0" dy="14.64">~TGSplitButton</tspan></text></g>
</g>

<g id="TQObject" transform="translate(731.3,692.4)">
<rect class="bx" width="333" height="395.2"/>
<text class="ti" x="166.5" y="22.5">TQObject</text>
<g transform="translate(278.6,63.3)"><rect class="y" x="-33.8" width="67.6" height="14.64"/><text class="t" x="0" y="10.8">fListOfConnections</text></g>
<g transform="translate(166.6,63.3)"><rect class="y" x="-33.8" width="67.6" height="14.64"/><rect class="y" x="-33.8" y="19" width="67.6" height="14.64"/><text class="t" y="10.8"><tspan x="0">fListOfSignals</tspan><tspan x="0" dy="19">fSignalsBlocked</tspan></text></g>
<g transform="translate(54.6,63.3)"><rect class="y" x="-33.8" width="67.6" height="14.64"/><rect class="p" x="-33.8" y="19" width="67.6" height="14.64"/><text class="t" y="10.8"><tspan x="0">fgAllSignalsBlocked</tspan><tspan x="0" dy="19">fgIsA</tspan></text></g>
<g transform="translate(278.6,168.6)"><g transform="scale(1,14.64)"><rect class="g" x="-33.8" y="0" width="67.6" height="5"/><rect class="y" x="-33.8" y="5" width="67.6" height="1"/><rect class="k" x="-33.8" y="6" width="67.6" height="3"/><rect class="g" x="-33.8" y="9" width="67.6" height="2"/><rect class="y" x="-33.8" y="11" width="67.6" height="1"/><rect class="g" x="-33.8" y="12" width="67.6" height="1"/><rect class="k" x="-33.8" y="13" width="67.6" height="1"/></g><text class="t" y="10.8"><tspan x="0">AreAllSignalsBlocked</tspan><tspan x="0" dy="14.64">AreSignalsBlocked</tspan><tspan x="0" dy="14.64">BlockAllSignals</tspan><tspan x="0" dy="14.64">BlockSignals</tspan><tspan x="0" dy="14.64">ChangedBy</tspan><tspan x="0" dy="14.64">CheckConnectArgs</tspan><tspan x="0" dy="14.64">Class</tspan><tspan x="0" dy="14.64">Class_Name</tspan><tspan x="0" dy="14.64">Class_Version</tspan><tspan x="0" dy="14.64">CollectClassSignalLists</tspan><tspan x="0" dy="14.64">Connect</tspan><tspan x="0" dy="14.64">ConnectToClass</tspan><tspan x="0" dy="14.64">Connected</tspan><tspan x="0" dy="14.64">DeclFileLine</tspan></text></g>
<g transform="translate(166.6,168.6)"><g transform="scale(1,14.64)"><rect class="k" x="-33.8" y="0" width="67.6" height="1"/><rect class="g" x="-33.8" y="1" width="67.6" height="1"/><rect class="k" x="-33.8" y="2" width="67.6" height="1"/><rect class="g" x="-33.8" y="3" width="67.6" height="7"/><rect class="y" x="-33.8" y="10" width="67.6" height="1"/><rect class="g" x="-33.8" y="11" width="67.6" height="3"/></g><text class="t" y="10.8"><tspan x="0">DeclFileName</tspan><tspan x="0" dy="14.64">Destroyed</tspan><tspan x="0" dy="14.64">Dictionary</tspan><tspan x="0" dy="14.64">Disconnect</tspan><tspan x="0" dy="14.64">Disconnected</tspan><tspan x="0" dy="14.64">Emit</tspan><tspan x="0" dy="14.64">EmitVA</tspan><tspan x="0" dy="14.64">GetListOfClassSignals</tspan><tspan x="0" dy="14.64">GetListOfConnections</tspan><tspan x="0" dy="14.64">GetListOfSignals</tspan><tspan x="0" dy="14.64">GetSender</tspan><tspan x="0" dy="14.64">GetSenderClassName</tspan><tspan x="0" dy="14.64">HasConnection</tspan><tspan x="0" dy="14.64">HighPriority</tspan></text></g>
<g transform="translate(54.6,168.6)"><g transform="scale(1,14.64)"><rect class="k" x="-33.8" y="0" width="67.6" height="3"/><rect class="g" x="-33.8" y="3" width="67.6" height="5"/><rect class="k" x="-33.8" y="8" width="67.6" height="3"/><rect class="g" x="-33.8" y="11" width="67.6" height="1"/><rect class="k" x="-33.8" y="12" width="67.6" height="1"/><rect class="g" x="-33.8" y="13" width="67.6" height="1"/></g><text class="t" y="10.8"><tspan x="0">ImplFileLine</tspan><tspan x="0" dy="14.64">ImplFileName</tspan><tspan x="0" dy="14.64">IsA</tspan><tspan x="0" dy="14.64">LoadRQ_OBJECT</tspan><tspan x="0" dy="14.64">LowPriority</tspan><tspan x="0" dy="14.64">Message</tspan><tspan x="0" dy="14.64">NumberOfConnections</tspan><tspan x="0" dy="14.64">NumberOfSignals</tspan><tspan x="0" dy="14.64">ShowMembers</tspan><tspan x="0" dy="14.64">Streamer</tspan><tspan x="0" dy="14.64">StreamerNVirtual</tspan><tspan x="0" dy="14.64">TQObject</tspan><tspan x="0" dy="14.64">operator=</tspan><tspan x="0" dy="14.64">~TQObject</tspan></text></g>
</g>

<g id="TGWidget" transform="translate(1088.6,964.7)">
<rect class="bx" width="333" height="306.8"/>
<text class="ti" x="166.5" y="22.5">TGWidget</text>
<g transform="translate(278.6,63.3)"><rect class="y" x="-33.8" width="67.6" height="14.64"/><text class="t" x="0" y="10.8">fCommand</text></g>
<g transform="translate(166.6,63.3)"><rect class="y" x="-33.8" width="67.6" height="14.64"/><rect class="y" x="-33.8" y="19" width="67.6" height="14.64"/><text class="t" y="10.8"><tspan x="0">fMsgWindow</tspan><tspan x="0" dy="19">fWidgetFlags</tspan></text></g>
<g transform="translate(54.6,63.3)"><rect class="y" x="-33.8" width="67.6" height="14.64"/><rect class="p" x="-33.8" y="19" width="67.6" height="14.64"/><text class="t" y="10.8"><tspan x="0">fWidgetId</tspan><tspan x="0" dy="19">fgIsA</tspan></text></g>
<g transform="translate(278.6,168.7)"><g transform="scale(1,14.64)"><rect class="g" x="-33.8" y="0" width="67.6" height="1"/><rect class="k" x="-33.8" y="1" width="67.6" height="3"/><rect class="y" x="-33.8" y="4" width="67.6" height="1"/><rect class="k" x="-33.8" y="5" width="67.6" height="3"/></g><text class="t" y="10.8"><tspan x="0">Associate</tspan><tspan x="0" dy="14.64">Class</tspan><tspan x="0" dy="14.64">Class_Name</tspan><tspan x="0" dy="14.64">Class_Version</tspan><tspan x="0" dy="14.64">ClearFlags</tspan><tspan x="0" dy="14.64">DeclFileLine</tspan><tspan x="0" dy="14.64">DeclFileName</tspan><tspan x="0" dy="14.64">Dictionary</tspan></text></g>
<g transform="translate(166.6,168.7)"><g transform="scale(1,14.64)"><rect class="g" x="-33.8" y="0" width="67.6" height="2"/><rect class="k" x="-33.8" y="2" width="67.6" height="3"/><rect class="g" x="-33.8" y="5" width="67.6" height="2"/><rect class="y" x="-33.8" y="7" width="67.6" height="1"/></g><text class="t" y="10.8"><tspan x="0">GetCommand</tspan><tspan x="0" dy="14.64">HasFocus</tspan><tspan x="0" dy="14.64">ImplFileLine</tspan><tspan x="0" dy="14.64">ImplFileName</tspan><tspan x="0" dy="14.64">IsA</tspan><tspan x="0" dy="14.64">IsEnabled</tspan><tspan x="0" dy="14.64">SetCommand</tspan><tspan x="0" dy="14.64">SetFlags</tspan></text></g>
<g transform="translate(54.6,168.7)"><g transform="scale(1,14.64)"><rect class="k" x="-33.8" y="0" width="67.6" height="3"/><rect class="g" x="-33.8" y="3" width="67.6" height="3"/><rect class="k" x="-33.8" y="6" width="67.6" height="1"/><rect class="g" x="-33.8" y="7" width="67.6" height="1"/></g><text class="t" y="10.8"><tspan x="0">ShowMembers</tspan><tspan x="0" dy="14.64">Streamer</tspan><tspan x="0" dy="14.64">StreamerNVirtual</tspan><tspan x="0" dy="14.64">TGWidget</tspan><tspan x="0" dy="14.64">WantFocus</tspan><tspan x="0" dy="14.64">WidgetId</tspan><tspan x="0" dy="14.64">operator=</tspan><tspan x="0" dy="14.64">~TGWidget</tspan></text></g>
</g>

<g id="edges">
<path class="e" marker-end="url(#ah)" d="M373.8,95.8L349.5,95.8"/>
<path class="e" marker-end="url(#ah)" d="M731.3,95.8L706.8,95.8"/>
<path class="e" marker-end="url(#ah)" d="M1088.6,95.8L1064.3,95.8"/>
<path class="e" marker-end="url(#ah)" d="M1445.8,95.8L1421.6,95.8"/>
<path class="e" marker-end="url(#ah)" d="M1803.2,95.8L1778.8,95.8"/>
<path class="e" marker-end="url(#ah)" d="M2160.6,95.8L2136.2,95.8"/>
<path class="e" marker-end="url(#ah)" d="M1088.6,97C1074,125 1070.5,170 1070.5,300C1070.5,420 1082,540 1081.5,640C1081,690 1074,730 1064.3,762"/>
<path class="e" marker-end="url(#ah)" d="M1445.8,97C1430,125 1425,170 1424.5,300C1424,500 1428,700 1427.5,900C1427,960 1425,1000 1421.6,1034"/>
</g>
</svg>
